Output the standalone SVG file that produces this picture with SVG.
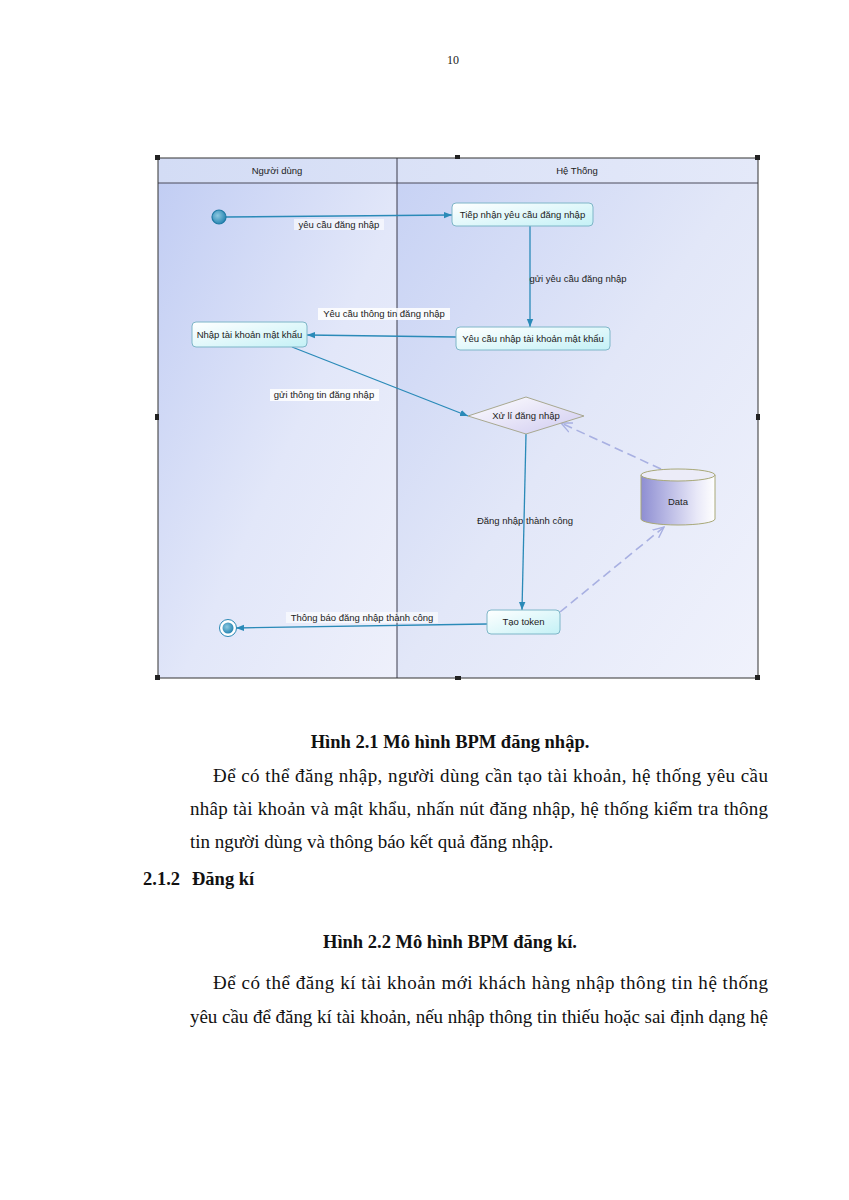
<svg xmlns="http://www.w3.org/2000/svg" width="849" height="1200" viewBox="0 0 849 1200">
<defs>
<linearGradient id="laneL" x1="0" y1="0" x2="1" y2="1">
<stop offset="0" stop-color="#c0ccf3"/><stop offset="0.55" stop-color="#e2e7f9"/><stop offset="1" stop-color="#eef0fb"/>
</linearGradient>
<linearGradient id="laneR" x1="0" y1="0" x2="1" y2="1">
<stop offset="0" stop-color="#c6d1f4"/><stop offset="0.5" stop-color="#e2e7f8"/><stop offset="1" stop-color="#f0f2fc"/>
</linearGradient>
<linearGradient id="head" x1="0" y1="0" x2="1" y2="0">
<stop offset="0" stop-color="#d3dcf5"/><stop offset="1" stop-color="#e4e9f9"/>
</linearGradient>
<linearGradient id="box" x1="0" y1="0" x2="1" y2="1">
<stop offset="0" stop-color="#ffffff"/><stop offset="1" stop-color="#c4f1f6"/>
</linearGradient>
<linearGradient id="dia" x1="0" y1="0" x2="1" y2="1">
<stop offset="0" stop-color="#ffffff"/><stop offset="1" stop-color="#cfcaf0"/>
</linearGradient>
<linearGradient id="cyl" x1="0" y1="0" x2="1" y2="0">
<stop offset="0" stop-color="#8e8ed2"/><stop offset="0.75" stop-color="#e8e8f8"/><stop offset="1" stop-color="#ffffff"/>
</linearGradient>
<radialGradient id="dot" cx="0.4" cy="0.4" r="0.6">
<stop offset="0" stop-color="#8cc8e0"/><stop offset="1" stop-color="#2a88b4"/>
</radialGradient>
<marker id="arr" viewBox="0 0 10 10" refX="10" refY="5" markerWidth="8" markerHeight="8" orient="auto" markerUnits="userSpaceOnUse">
<path d="M0,1 L10,5 L0,9 z" fill="#2a8ab8"/>
</marker>
<marker id="open" viewBox="0 0 12 12" refX="11" refY="6" markerWidth="12" markerHeight="12" orient="auto" markerUnits="userSpaceOnUse">
<path d="M0,1 L11,6 L0,11" fill="none" stroke="#a8b0e2" stroke-width="1.4"/>
</marker>
</defs>
<style>
.node{fill:url(#box);stroke:#7fb6c8;stroke-width:1}
.nt{font-family:"Liberation Sans",Arial,sans-serif;font-size:9.5px;fill:#222;text-anchor:middle}
.lbl{font-family:"Liberation Sans",Arial,sans-serif;font-size:9.5px;fill:#222;text-anchor:middle}
.con{stroke:#2a8ab8;stroke-width:1.3;fill:none;marker-end:url(#arr)}
.dash{stroke:#a8b0e2;stroke-width:1.6;fill:none;stroke-dasharray:9 5;marker-end:url(#open)}
.hd{fill:#222}
.doc{font-family:"Liberation Serif","Times New Roman",serif;font-size:19px;fill:#111}
.cap{font-family:"Liberation Serif","Times New Roman",serif;font-size:18.5px;font-weight:bold;fill:#111}
</style>
<rect width="849" height="1200" fill="#ffffff"/>
<text x="453" y="64" text-anchor="middle" font-family="Liberation Serif, serif" font-size="12" fill="#222">10</text>

<g id="pool">
<rect x="158" y="158" width="239" height="520" fill="url(#laneL)"/>
<rect x="397" y="158" width="361" height="520" fill="url(#laneR)"/>
<rect x="158" y="158" width="600" height="25" fill="url(#head)"/>
<line x1="158" y1="183" x2="758" y2="183" stroke="#4a4a5a" stroke-width="1"/>
<line x1="397" y1="158" x2="397" y2="678" stroke="#3a3a4a" stroke-width="1"/>
<rect x="158" y="158" width="600" height="520" fill="none" stroke="#333" stroke-width="1"/>
<text x="277" y="174" class="nt">Người dùng</text>
<text x="577" y="174" class="nt">Hệ Thống</text>
<g class="hd">
<rect x="155" y="155" width="5" height="5"/><rect x="455" y="155" width="5" height="4"/><rect x="755" y="155" width="5" height="5"/>
<rect x="155" y="414" width="4" height="6"/><rect x="756" y="414" width="4" height="6"/>
<rect x="155" y="675" width="5" height="5"/><rect x="455" y="676" width="6" height="4"/><rect x="755" y="675" width="5" height="5"/>
</g>
</g>

<g id="connectors">
<line class="con" x1="226" y1="217" x2="452" y2="215"/>
<line class="con" x1="530" y1="226" x2="530" y2="327"/>
<line class="con" x1="456" y1="337" x2="307" y2="335"/>
<line class="con" x1="292" y1="347" x2="468" y2="416"/>
<line class="con" x1="526" y1="434" x2="522" y2="610"/>
<line class="con" x1="487" y1="624" x2="236" y2="628"/>
<line class="dash" x1="661" y1="469" x2="561" y2="423"/>
<line class="dash" x1="560" y1="612" x2="664" y2="527"/>
<rect x="294" y="219" width="90" height="11" fill="#ffffff" opacity="0.6"/>
<text x="339" y="228" class="lbl">yêu cầu đăng nhập</text>
<text x="578" y="282" class="lbl">gửi yêu cầu đăng nhập</text>
<rect x="318" y="308" width="132" height="12" fill="#ffffff" opacity="0.85"/>
<text x="384" y="317" class="lbl">Yêu cầu thông tin đăng nhập</text>
<rect x="270" y="389" width="109" height="12" fill="#ffffff" opacity="0.85"/>
<text x="324" y="398" class="lbl">gửi thông tin đăng nhập</text>
<text x="525" y="524" class="lbl">Đăng nhập thành công</text>
<rect x="286" y="612" width="152" height="11" fill="#ffffff" opacity="0.6"/>
<text x="362" y="621" class="lbl">Thông báo đăng nhập thành công</text>
</g>

<g id="start">
<circle cx="219" cy="217" r="7" fill="url(#dot)" stroke="#1f7aa4" stroke-width="1.2"/>
</g>
<g id="tiep-nhan">
<rect x="452" y="203" width="141" height="23" rx="4" class="node"/>
<text x="522.5" y="218" class="nt">Tiếp nhận yêu cầu đăng nhập</text>
</g>
<g id="yeu-cau-nhap">
<rect x="456" y="327" width="154" height="23" rx="4" class="node"/>
<text x="533" y="342" class="nt">Yêu cầu nhập tài khoản mật khẩu</text>
</g>
<g id="nhap-tk">
<rect x="192" y="322" width="115" height="25" rx="4" class="node"/>
<text x="249.5" y="338" class="nt">Nhập tài khoản mật khẩu</text>
</g>
<g id="xu-li">
<polygon points="468,416 526,397 584,416 526,434" fill="url(#dia)" stroke="#a8a890" stroke-width="1"/>
<text x="526" y="419" class="nt">Xử lí đăng nhập</text>
</g>
<g id="data">
<path d="M641,475 L641,519 A37,6 0 0 0 715,519 L715,475" fill="url(#cyl)" stroke="#a8a878" stroke-width="1"/>
<ellipse cx="678" cy="475" rx="37" ry="6" fill="#ececf8" stroke="#a8a878" stroke-width="1"/>
<text x="678" y="505" class="nt">Data</text>
</g>
<g id="tao-token">
<rect x="487" y="610" width="73" height="24" rx="4" class="node"/>
<text x="523.5" y="625" class="nt">Tạo token</text>
</g>
<g id="end">
<circle cx="228" cy="628" r="8.5" fill="#ffffff" stroke="#2a88b4" stroke-width="1"/>
<circle cx="228" cy="628" r="5.5" fill="url(#dot)"/>
</g>

<g id="body">
<text x="450" y="748" text-anchor="middle" class="cap">Hình 2.1 Mô hình BPM đăng nhập.</text>
<text x="213" y="782" class="doc" textLength="555" lengthAdjust="spacing">Để có thể đăng nhập, người dùng cần tạo tài khoản, hệ thống yêu cầu</text>
<text x="190" y="815" class="doc" textLength="578" lengthAdjust="spacing">nhâp tài khoản và mật khẩu, nhấn nút đăng nhập, hệ thống kiểm tra thông</text>
<text x="190" y="848" class="doc">tin người dùng và thông báo kết quả đăng nhập.</text>
<text x="143" y="885" class="cap">2.1.2</text>
<text x="192" y="885" class="cap">Đăng kí</text>
<text x="450" y="948" text-anchor="middle" class="cap">Hình 2.2 Mô hình BPM đăng kí.</text>
<text x="213" y="989" class="doc" textLength="555" lengthAdjust="spacing">Để có thể đăng kí tài khoản mới khách hàng nhập thông tin hệ thống</text>
<text x="190" y="1023" class="doc" textLength="578" lengthAdjust="spacing">yêu cầu để đăng kí tài khoản, nếu nhập thông tin thiếu hoặc sai định dạng hệ</text>
</g>
</svg>
